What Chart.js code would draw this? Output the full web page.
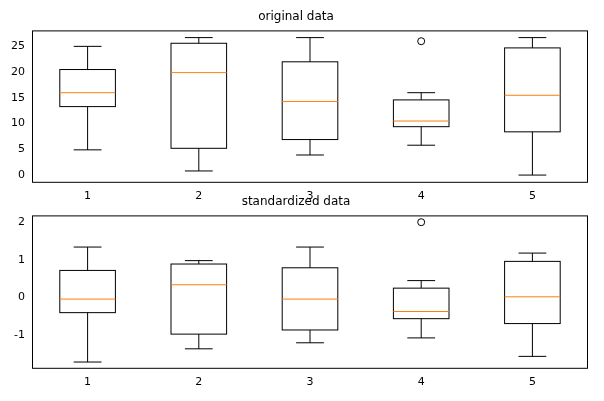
<!DOCTYPE html>
<html><head><meta charset="utf-8">
<script src="https://cdn.jsdelivr.net/npm/chart.js@4/dist/chart.umd.min.js"></script>
<style>body{margin:0;background:#fff;width:604px;height:401px;position:relative;overflow:hidden}
.c{position:absolute;left:0;width:604px}</style></head>
<body>
<div class="c" style="top:0;height:206px"><canvas id="c1"></canvas></div>
<div class="c" style="top:185px;height:216px"><canvas id="c2"></canvas></div>
<script>
const categories=[1,2,3,4,5];
// [low whisker, Q1, median, Q3, high whisker]
const origStats=[[4.9,13.3,16,20.5,25],[0.8,5.2,19.9,25.6,26.7],[3.9,6.9,14.3,22,26.7],[5.8,9.4,10.5,14.6,16],[0,8.4,15.5,24.7,26.7]];
const origFliers=[[],[],[],[26],[]];
const stdStats=[[-1.71,-0.4,-0.04,0.72,1.34],[-1.36,-0.97,0.34,0.89,0.98],[-1.2,-0.86,-0.04,0.79,1.34],[-1.07,-0.56,-0.37,0.25,0.45],[-1.56,-0.69,0.02,0.96,1.18]];
const stdFliers=[[],[],[],[2.0],[]];
const origTicks=[0,5,10,15,20,25];
const stdTicks=[-1,0,1,2];

const boxPlugin={id:'box',afterDatasetsDraw(chart){
  const {ctx,chartArea:a,scales:{x,y}}=chart;const st=chart.options.plugins.box;
  ctx.save();ctx.lineWidth=1;
  st.stats.forEach((s,i)=>{
    const cx=x.getPixelForValue(categories[i]);
    const hw=(x.getPixelForValue(1.25)-x.getPixelForValue(1));
    const cw=hw/2;
    const p=s.map(v=>y.getPixelForValue(v));
    ctx.strokeStyle='#000';
    ctx.strokeRect(cx-hw,p[3],2*hw,p[1]-p[3]);
    ctx.beginPath();
    ctx.moveTo(cx,p[1]);ctx.lineTo(cx,p[0]);ctx.moveTo(cx-cw,p[0]);ctx.lineTo(cx+cw,p[0]);
    ctx.moveTo(cx,p[3]);ctx.lineTo(cx,p[4]);ctx.moveTo(cx-cw,p[4]);ctx.lineTo(cx+cw,p[4]);
    ctx.stroke();
    ctx.strokeStyle='#ff7f0e';ctx.beginPath();ctx.moveTo(cx-hw,p[2]);ctx.lineTo(cx+hw,p[2]);ctx.stroke();
    ctx.strokeStyle='#000';
    st.fliers[i].forEach(v=>{ctx.beginPath();ctx.arc(cx,y.getPixelForValue(v),3.5,0,2*Math.PI);ctx.stroke();});
  });
  ctx.strokeStyle='#000';ctx.strokeRect(a.left+0.5,a.top+0.5,a.width-1,a.height-1);
  ctx.restore();
}};
function make(id,title,stats,fliers,ticks,ymin,ymax,pad){
  new Chart(document.getElementById(id),{type:'scatter',
    data:{datasets:[{data:[],showLine:false}]},
    options:{responsive:true,maintainAspectRatio:false,animation:false,
      layout:{padding:pad},
      plugins:{legend:{display:false},tooltip:{enabled:false},
        title:{display:true,text:title,color:'#000',font:{family:'DejaVu Sans',size:12,weight:'normal'},padding:{top:0,bottom:6}},
        box:{stats:stats,fliers:fliers}},
      scales:{
        x:{type:'linear',min:0.5,max:5.5,afterBuildTicks:s=>{s.ticks=categories.map(v=>({value:v}))},
          grid:{display:false,drawTicks:true,tickLength:4,tickColor:'#000'},border:{display:false},
          ticks:{color:'#000',font:{family:'DejaVu Sans',size:11},padding:3}},
        y:{min:ymin,max:ymax,afterBuildTicks:s=>{s.ticks=ticks.map(v=>({value:v}))},afterFit:s=>{s.width=28},
          grid:{display:false,drawTicks:true,tickLength:4,tickColor:'#000'},border:{display:false},
          ticks:{color:'#000',font:{family:'DejaVu Sans',size:11},padding:3}}
      }},plugins:[boxPlugin]});
}
make('c1','original data',origStats,origFliers,origTicks,-1.5,28.1,{top:10,left:4,right:16,bottom:0});
make('c2','standardized data',stdStats,stdFliers,stdTicks,-1.89,2.18,{top:10,left:4,right:16,bottom:9});
</script></body></html>
